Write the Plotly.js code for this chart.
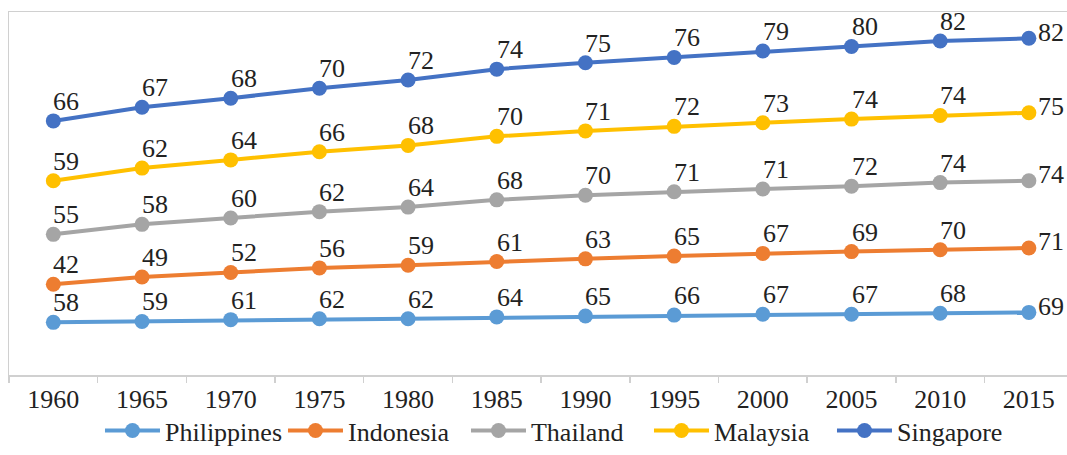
<!DOCTYPE html>
<html>
<head>
<meta charset="utf-8">
<script src="https://cdn.plot.ly/plotly-3.0.1.min.js"></script>
<style>html,body{margin:0;padding:0;background:#fff;}#chart{width:1067px;height:455px;}</style>
</head>
<body>
<div id="chart"></div>
<script>
const years = ["1960","1965","1970","1975","1980","1985","1990","1995","2000","2005","2010","2015"];
const philippines = [58,59,61,62,62,64,65,66,67,67,68,69];
const indonesia   = [42,49,52,56,59,61,63,65,67,69,70,71];
const thailand    = [55,58,60,62,64,68,70,71,71,72,74,74];
const malaysia    = [59,62,64,66,68,70,71,72,73,74,74,75];
const singapore   = [66,67,68,70,72,74,75,76,79,80,82,82];

const seriesNames = ["Philippines","Indonesia","Thailand","Malaysia","Singapore"];
const seriesData = [philippines, indonesia, thailand, malaysia, singapore];
const colors = ["#5B9BD5","#ED7D31","#A5A5A5","#FFC000","#4472C4"];

const FONT = "Liberation Serif";
const TXT = "#222222";

const traces = seriesData.map((vals, k) => ({
  type: "scatter",
  mode: "lines+markers",
  name: seriesNames[k],
  x: years,
  y: vals,
  stackgroup: "one",
  fill: "none",
  line: {color: colors[k], width: 4},
  marker: {color: colors[k], size: 15},
  hoverinfo: "skip",
  cliponaxis: false
}));

// data labels at each stacked point (category index on x, stacked total on y)
const annotations = [];
const running = years.map(() => 0);
seriesData.forEach((vals) => {
  vals.forEach((v, i) => {
    running[i] += v;
    const last = i === years.length - 1;
    annotations.push({
      x: i, y: running[i], xref: "x", yref: "y",
      text: String(v), showarrow: false,
      xanchor: "left", yanchor: last ? "middle" : "bottom",
      xshift: last ? 7 : -2, yshift: last ? 6 : 3,
      font: {family: FONT, size: 26, color: TXT}
    });
  });
});

const layout = {
  width: 1067, height: 455,
  margin: {l: 9, r: 0, t: 12, b: 80},
  paper_bgcolor: "#fff", plot_bgcolor: "#fff",
  font: {family: FONT, size: 26, color: TXT},
  showlegend: true,
  annotations: annotations,
  legend: {orientation: "h", x: 0.086, xanchor: "left", y: -0.218, yanchor: "bottom",
           bgcolor: "rgba(0,0,0,0)", entrywidth: 113, entrywidthmode: "pixels",
           traceorder: "normal", font: {family: FONT, size: 26, color: TXT}, itemwidth: 55},
  xaxis: {
    type: "category",
    range: [-0.5, 11.43],
    showline: true, linecolor: "#d0d0d0", linewidth: 1.5, mirror: true,
    ticks: "outside", ticklen: 6, tickcolor: "#d0d0d0", tickwidth: 1.5,
    tickson: "boundaries",
    showgrid: false, zeroline: false,
    tickfont: {family: FONT, size: 26, color: TXT}
  },
  yaxis: {
    range: [0, 400],
    showline: true, linecolor: "#d0d0d0", linewidth: 1.5,
    showticklabels: false, ticks: "", showgrid: false, zeroline: false, fixedrange: true
  }
};

Plotly.newPlot("chart", traces, layout, {displayModeBar: false, staticPlot: true});
</script>
</body>
</html>
